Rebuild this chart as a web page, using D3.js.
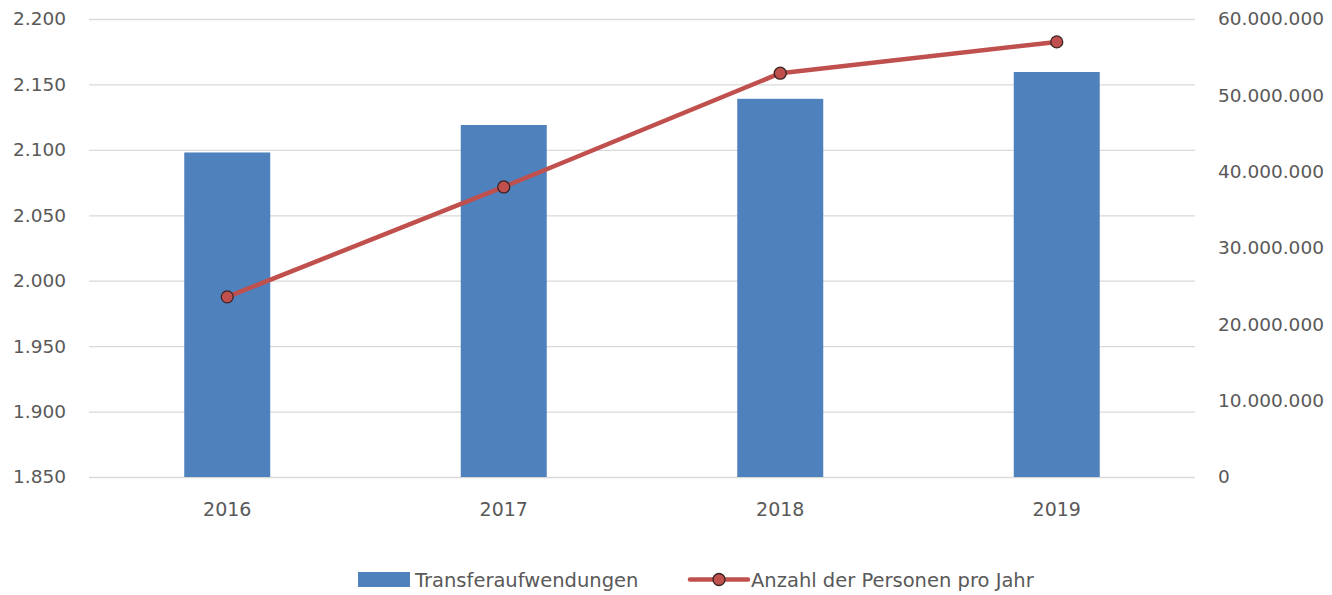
<!DOCTYPE html>
<html>
<head>
<script src="https://d3js.org/d3.v7.min.js"></script>
<style>
  body { margin: 0; background: #fff; }
  text { font-family: "DejaVu Sans", sans-serif; fill: #595959; }
</style>
</head>
<body>
<script>
const years = ["2016", "2017", "2018", "2019"];
const transfer = [2098, 2119, 2139, 2159.5];
const persons = [23600000, 38000000, 52900000, 57000000];
const leftTicks = [1850, 1900, 1950, 2000, 2050, 2100, 2150, 2200];
const rightTicks = [0, 10000000, 20000000, 30000000, 40000000, 50000000, 60000000];

const W = 1332, H = 595;
const plotL = 89, plotR = 1195, plotT = 19, plotB = 477;
const fs = 18.5;

const svg = d3.select("body").append("svg").attr("width", W).attr("height", H);

const x = d3.scaleBand().domain(years).range([plotL, plotR]).paddingInner(0.689).paddingOuter(0.3445);
const yL = d3.scaleLinear().domain([1850, 2200]).range([plotB, plotT]);
const yR = d3.scaleLinear().domain([0, 60000000]).range([plotB, plotT]);
const fmt = v => d3.format(",")(v).replace(/,/g, ".");

// gridlines
svg.append("g").selectAll("line").data(leftTicks).join("line")
  .attr("x1", plotL).attr("x2", plotR)
  .attr("y1", d => yL(d) + 0.5).attr("y2", d => yL(d) + 0.5)
  .attr("stroke", "#d9d9d9").attr("stroke-width", 1.3);

// left axis labels
svg.append("g").selectAll("text").data(leftTicks).join("text")
  .attr("x", 66).attr("y", d => yL(d)).attr("dy", "0.35em")
  .attr("text-anchor", "end").style("font-size", fs + "px")
  .text(fmt);

// right axis labels
svg.append("g").selectAll("text").data(rightTicks).join("text")
  .attr("x", 1218).attr("y", d => yR(d)).attr("dy", "0.35em")
  .attr("text-anchor", "start").style("font-size", fs + "px")
  .text(fmt);

// bars
svg.append("g").selectAll("rect").data(years).join("rect")
  .attr("x", d => x(d)).attr("width", x.bandwidth())
  .attr("y", (d, i) => yL(transfer[i])).attr("height", (d, i) => plotB - yL(transfer[i]))
  .attr("fill", "#4f81bd");

// category labels
svg.append("g").selectAll("text").data(years).join("text")
  .attr("x", d => x(d) + x.bandwidth() / 2).attr("y", 509).attr("dy", "0.35em")
  .attr("text-anchor", "middle").style("font-size", "19px")
  .text(d => d);

// line
const cx = d => x(d) + x.bandwidth() / 2;
const line = d3.line().x((d, i) => cx(years[i])).y(d => yR(d));
svg.append("path").datum(persons).attr("d", line)
  .attr("fill", "none").attr("stroke", "#c0504d").attr("stroke-width", 4.5)
  .attr("stroke-linejoin", "round");
svg.append("g").selectAll("circle").data(persons).join("circle")
  .attr("cx", (d, i) => cx(years[i])).attr("cy", d => yR(d)).attr("r", 6)
  .attr("fill", "#c0504d").attr("stroke", "#3b2424").attr("stroke-width", 1.3);

// legend
const lg = svg.append("g");
lg.append("rect").attr("x", 358).attr("y", 572).attr("width", 52).attr("height", 15).attr("fill", "#4f81bd");
lg.append("text").attr("x", 415).attr("y", 580).attr("dy", "0.35em").style("font-size", "19.5px").text("Transferaufwendungen");
lg.append("line").attr("x1", 690).attr("x2", 748).attr("y1", 579.5).attr("y2", 579.5)
  .attr("stroke", "#c0504d").attr("stroke-width", 4.5).attr("stroke-linecap", "round");
lg.append("circle").attr("cx", 719).attr("cy", 579.5).attr("r", 6)
  .attr("fill", "#c0504d").attr("stroke", "#3b2424").attr("stroke-width", 1.3);
lg.append("text").attr("x", 751).attr("y", 580).attr("dy", "0.35em").style("font-size", "19.5px").text("Anzahl der Personen pro Jahr");
</script>
</body>
</html>
